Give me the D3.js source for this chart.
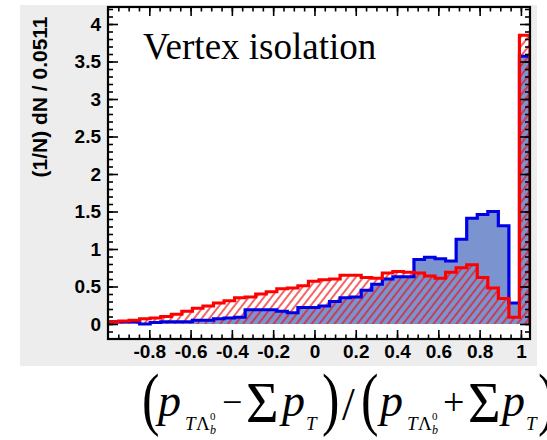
<!DOCTYPE html>
<html>
<head>
<meta charset="utf-8">
<script src="https://cdn.jsdelivr.net/npm/d3@7"></script>
<style>
  body { margin: 0; background: #fff; }
  svg { display: block; }
</style>
</head>
<body>
<div id="chart"></div>
<script>
// bin layout: 40 bins of width 0.0511 starting at -1
var binStart = -1, binWidth = 0.0511, nBins = 40;

// signal (blue, filled) and background (red, hatched), normalised
var blueValues = [0.03, 0.03, 0.03, 0.00, 0.02, 0.03, 0.03, 0.03, 0.05, 0.05,
                  0.07, 0.08, 0.09, 0.19, 0.19, 0.19, 0.17, 0.15, 0.22, 0.22,
                  0.24, 0.30, 0.35, 0.36, 0.45, 0.53, 0.60, 0.63, 0.63, 0.86,
                  0.89, 0.87, 0.84, 1.13, 1.41, 1.46, 1.50, 1.31, 0.28, 3.57];
var redValues  = [0.03, 0.04, 0.05, 0.07, 0.08, 0.10, 0.13, 0.17, 0.21, 0.24,
                  0.28, 0.31, 0.35, 0.36, 0.40, 0.43, 0.47, 0.48, 0.51, 0.57,
                  0.59, 0.60, 0.65, 0.65, 0.62, 0.61, 0.68, 0.70, 0.69, 0.68,
                  0.64, 0.61, 0.69, 0.75, 0.79, 0.62, 0.48, 0.34, 0.09, 3.85];

var xMajor = [-0.8, -0.6, -0.4, -0.2, 0, 0.2, 0.4, 0.6, 0.8, 1];
var yMajor = [0, 0.5, 1, 1.5, 2, 2.5, 3, 3.5, 4];

var width = 547, height = 440;
var frame = {left: 108, right: 530, top: 7, bottom: 339};

var svg = d3.select("#chart").append("svg")
    .attr("width", width)
    .attr("height", height);

// grey canvas behind the pad
svg.append("rect")
    .attr("x", 20).attr("y", 5)
    .attr("width", 517).attr("height", 361)
    .attr("fill", "#ededed");

var x = d3.scaleLinear()
    .domain([binStart, binStart + nBins * binWidth])
    .range([frame.left, frame.right]);
var y = d3.scaleLinear()
    .domain([-0.2, 4.2267])
    .range([frame.bottom, frame.top]);

var defs = svg.append("defs");
defs.append("clipPath").attr("id", "clip")
  .append("rect")
    .attr("x", frame.left).attr("y", frame.top)
    .attr("width", frame.right - frame.left)
    .attr("height", frame.bottom - frame.top);

var hatch = defs.append("pattern")
    .attr("id", "hatch")
    .attr("patternUnits", "userSpaceOnUse")
    .attr("width", 6).attr("height", 6)
    .attr("patternTransform", "rotate(38)");
hatch.append("line")
    .attr("x1", 1).attr("y1", 0).attr("x2", 1).attr("y2", 6)
    .attr("stroke", "#ee1111").attr("stroke-width", 1.3);

svg.append("rect")
    .attr("x", frame.left).attr("y", frame.top)
    .attr("width", frame.right - frame.left)
    .attr("height", frame.bottom - frame.top)
    .attr("fill", "#fff");

// step outline of a histogram, closed down to zero at both ends
function stepPoints(values) {
  var pts = [[x(binStart), y(0)]];
  values.forEach(function(v, i) {
    var lo = binStart + i * binWidth;
    pts.push([x(lo), y(v)]);
    pts.push([x(lo + binWidth), y(v)]);
  });
  pts.push([x(binStart + nBins * binWidth), y(0)]);
  return pts;
}
var line = d3.line();

var plot = svg.append("g").attr("clip-path", "url(#clip)");

plot.append("path")
    .attr("d", line(stepPoints(blueValues)) + "Z")
    .attr("fill", "#7b93cf");
plot.append("path")
    .attr("d", line(stepPoints(redValues)) + "Z")
    .attr("fill", "url(#hatch)");
plot.append("path")
    .attr("d", line(stepPoints(blueValues)))
    .attr("fill", "none")
    .attr("stroke", "#0000e6")
    .attr("stroke-width", 3.2);
plot.append("path")
    .attr("d", line(stepPoints(redValues)))
    .attr("fill", "none")
    .attr("stroke", "#ff0000")
    .attr("stroke-width", 3.2);

// axes, ticks drawn inward on all four sides
function fmt(d) { return d3.format("")(+d.toFixed(1)).replace("\u2212", "-"); }
var xMinor = d3.range(-0.95, 1.04, 0.05).map(function(d) { return +d.toFixed(2); });
var yMinor = d3.range(-0.1, 4.21, 0.1).map(function(d) { return +d.toFixed(1); });

function styleAxis(g) {
  g.select(".domain").remove();
  g.selectAll("line").attr("stroke", "#000").attr("stroke-width", 1.6);
  g.selectAll("text")
      .attr("fill", "#000")
      .style("font-family", "'Liberation Sans', Arial, sans-serif")
      .style("font-weight", "bold")
      .style("font-size", "19px");
}

svg.append("g")
    .attr("transform", "translate(0," + frame.bottom + ")")
    .call(d3.axisBottom(x).tickValues(xMinor).tickSize(-4.5).tickFormat(""))
    .call(styleAxis);
svg.append("g")
    .attr("transform", "translate(0," + frame.bottom + ")")
    .call(d3.axisBottom(x).tickValues(xMajor).tickSize(-9).tickPadding(6).tickFormat(fmt))
    .call(styleAxis);
svg.append("g")
    .attr("transform", "translate(0," + frame.top + ")")
    .call(d3.axisTop(x).tickValues(xMinor).tickSize(-4.5).tickFormat(""))
    .call(styleAxis);
svg.append("g")
    .attr("transform", "translate(0," + frame.top + ")")
    .call(d3.axisTop(x).tickValues(xMajor).tickSize(-9).tickFormat(""))
    .call(styleAxis);

svg.append("g")
    .attr("transform", "translate(" + frame.left + ",0)")
    .call(d3.axisLeft(y).tickValues(yMinor).tickSize(-5).tickFormat(""))
    .call(styleAxis);
svg.append("g")
    .attr("transform", "translate(" + frame.left + ",0)")
    .call(d3.axisLeft(y).tickValues(yMajor).tickSize(-10).tickPadding(7).tickFormat(fmt))
    .call(styleAxis);
svg.append("g")
    .attr("transform", "translate(" + frame.right + ",0)")
    .call(d3.axisRight(y).tickValues(yMinor).tickSize(-5).tickFormat(""))
    .call(styleAxis);
svg.append("g")
    .attr("transform", "translate(" + frame.right + ",0)")
    .call(d3.axisRight(y).tickValues(yMajor).tickSize(-10).tickFormat(""))
    .call(styleAxis);

svg.append("rect")
    .attr("x", frame.left).attr("y", frame.top)
    .attr("width", frame.right - frame.left)
    .attr("height", frame.bottom - frame.top)
    .attr("fill", "none")
    .attr("stroke", "#000")
    .attr("stroke-width", 2.2);

// y axis title
svg.append("text")
    .attr("transform", "translate(47,97) rotate(-90)")
    .attr("text-anchor", "middle")
    .style("font-family", "'Liberation Sans', Arial, sans-serif")
    .style("font-weight", "bold")
    .style("font-size", "21px")
    .text("(1/N) dN / 0.0511");

svg.append("text")
    .attr("x", 143).attr("y", 59)
    .style("font-family", "'Liberation Serif', 'Times New Roman', serif")
    .style("font-size", "37px")
    .text("Vertex isolation");

// x axis formula
var serif = "'Liberation Serif', 'Times New Roman', serif";
var formula = svg.append("g").style("font-family", serif).attr("fill", "#000");
function put(txt, px, py, size, italic, sx) {
  var t = formula.append("text")
      .attr("transform", "translate(" + px + "," + py + ") scale(" + (sx || 1) + ",1)")
      .style("font-size", size + "px")
      .text(txt);
  if (italic) t.style("font-style", "italic");
  return t;
}
function pLambda(px) {
  put("p", px, 416, 46, true);
  put("T", px + 27, 430, 19, true);
  put("\u039B", px + 38, 430, 19, false);
  put("0", px + 52, 420, 11, false);
  put("b", px + 52, 434, 12, true);
}
put("(", 142, 422, 70, false, 0.75);
pLambda(158);
put("\u2212", 222, 414, 36, false);
put("\u03A3", 246, 422, 56, false);
put("p", 282, 416, 46, true);
put("T", 306, 430, 19, true);
put(")", 322, 422, 70, false, 0.75);
put("/", 342, 420, 46, false);
put("(", 361, 422, 70, false, 0.75);
pLambda(380);
put("+", 443, 415, 38, false);
put("\u03A3", 468, 422, 56, false);
put("p", 502, 416, 46, true);
put("T", 526, 430, 19, true);
put(")", 538, 422, 70, false, 0.75);
</script>
</body>
</html>
